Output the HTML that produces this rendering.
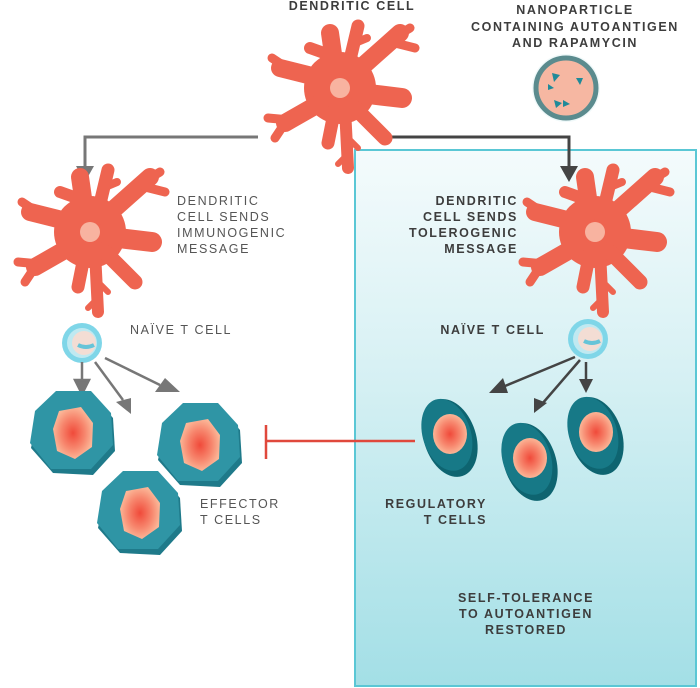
<!DOCTYPE html>
<html><head><meta charset="utf-8"><style>
body{margin:0;background:#fff}
svg{display:block}
text{font-family:"Liberation Sans",sans-serif;font-size:12.5px;letter-spacing:1.6px;fill:#444}
.b{font-weight:bold;fill:#3d3d3d}
.l{fill:#555}
</style></head><body>
<svg width="700" height="688" viewBox="0 0 700 688">
<defs>
<linearGradient id="pg" x1="0" y1="0" x2="0" y2="1">
<stop offset="0" stop-color="#f4fbfc"/><stop offset="0.4" stop-color="#d8f1f4"/><stop offset="1" stop-color="#a3dfe6"/></linearGradient>
<radialGradient id="nuc"><stop offset="0" stop-color="#f04a3a"/><stop offset="0.6" stop-color="#f7876e"/><stop offset="1" stop-color="#fbb596"/></radialGradient>
<g id="dc" stroke="#ee6450" stroke-linecap="round" stroke-linejoin="round" fill="none">
<circle cx="0" cy="0" r="36" fill="#ee6450" stroke="none"/>
<path d="M-5 -20 L-10 -55" stroke-width="18"/>
<path d="M8 -20 L18 -62" stroke-width="13"/>
<path d="M15 -45 L27 -50" stroke-width="8"/>
<path d="M15 -15 L60 -55" stroke-width="18"/>
<path d="M50 -48 L70 -60 M55 -45 L75 -40" stroke-width="9"/>
<path d="M20 5 L62 10" stroke-width="20"/>
<path d="M15 20 L45 50" stroke-width="15"/>
<path d="M-20 -10 L-60 -20" stroke-width="18"/>
<path d="M-50 -18 L-68 -30" stroke-width="9"/>
<path d="M-20 15 L-55 35" stroke-width="18"/>
<path d="M-50 32 L-72 30 M-55 35 L-65 50" stroke-width="9"/>
<path d="M-5 20 L-12 55" stroke-width="13"/>
<path d="M5 20 L8 80" stroke-width="12"/>
<path d="M8 50 L18 60 M6 68 L-2 76" stroke-width="6"/>
<path d="M-2 -30 L-30 -40" stroke-width="12"/>
<circle cx="0" cy="0" r="10" fill="#f8b3a0" stroke="none"/>
</g>
<g id="eff">
<polygon points="-35,-20 -15,-40 20,-38 40,-15 42,18 20,42 -20,40 -42,15" fill="#1f7a8a"/>
<polygon points="-38,-22 -17,-42 18,-42 38,-20 40,12 18,36 -22,36 -43,10" fill="#2f95a5"/>
<path d="M-14 -22 L8 -26 L20 -10 L19 14 L2 26 L-16 18 L-20 -4Z" fill="url(#nuc)"/>
</g>
<g id="reg">
<ellipse cx="0" cy="0" rx="26" ry="40" fill="#0e6470" transform="rotate(-18)"/>
<ellipse cx="-2" cy="-4" rx="24" ry="37" fill="#177987" transform="rotate(-18)"/>
<ellipse cx="0" cy="-4" rx="17" ry="20" fill="url(#nuc)"/>
</g>
<g id="nt">
<circle r="20" fill="#7fd6e8"/><circle r="15" fill="#bfe9f1"/>
<circle cx="2" cy="0" r="12" fill="#f3ddd4"/>
<path d="M-4 2 Q4 6 12 2" stroke="#66c4d8" stroke-width="4" fill="none"/>
</g>
</defs>
<rect x="355" y="150" width="341" height="536" fill="url(#pg)" stroke="#5ac7d5" stroke-width="2"/>

<path d="M258 137 H85 V170" stroke="#777" stroke-width="3" fill="none"/>
<polygon points="76,166 94,166 85,182" fill="#777"/>
<path d="M392 137 H569 V170" stroke="#444" stroke-width="3" fill="none"/>
<polygon points="560,166 578,166 569,182" fill="#444"/>

<use href="#dc" x="340" y="88"/>
<use href="#dc" x="90" y="232"/>
<use href="#dc" x="595" y="232"/>

<circle cx="566" cy="88" r="34" fill="#eaf6f8" opacity="0.7"/>
<circle cx="566" cy="88" r="30" fill="#f6b7a2" stroke="#5b8b8e" stroke-width="5"/>
<g fill="#1f8a99"><polygon points="552,73 560,75 554,82"/><polygon points="576,78 583,78 580,85"/><polygon points="554,100 562,103 556,108"/><polygon points="563,100 570,104 563,107"/><polygon points="548,84 554,88 548,90"/></g>

<use href="#nt" x="82" y="343"/>
<use href="#nt" x="588" y="339"/>

<g stroke="#777" stroke-width="2.5" fill="#777">
<line x1="82" y1="362" x2="82" y2="382"/><polygon points="75,380 89,380 82,394"/>
<line x1="95" y1="362" x2="123" y2="400"/><polygon points="116,402 131,398 131,414" stroke="none"/>
<line x1="105" y1="358" x2="160" y2="385"/><polygon points="155,392 165,378 180,392" stroke="none"/>
</g>
<g stroke="#444" stroke-width="2.5" fill="#444">
<line x1="575" y1="357" x2="505" y2="386"/><polygon points="489,393 503,378 508,393" stroke="none"/>
<line x1="580" y1="360" x2="542" y2="404"/><polygon points="534,413 534,398 547,403" stroke="none"/>
<line x1="586" y1="362" x2="586" y2="380"/><polygon points="579,379 593,379 586,393" stroke="none"/>
</g>

<use href="#eff" x="73" y="433"/>
<use href="#eff" x="200" y="445"/>
<use href="#eff" x="140" y="513"/>
<use href="#reg" x="450" y="438"/>
<use href="#reg" x="530" y="462"/>
<use href="#reg" x="596" y="436"/>

<path d="M415 441 H266 M266 425 V459" stroke="#e0483c" stroke-width="2.5" fill="none"/>

<text class="b" x="352" y="10" text-anchor="middle">DENDRITIC CELL</text>
<text class="b" x="575" y="14" text-anchor="middle">NANOPARTICLE</text>
<text class="b" x="575" y="31" text-anchor="middle">CONTAINING AUTOANTIGEN</text>
<text class="b" x="575" y="47" text-anchor="middle">AND RAPAMYCIN</text>
<text class="l" x="177" y="205">DENDRITIC</text>
<text class="l" x="177" y="221">CELL SENDS</text>
<text class="l" x="177" y="237">IMMUNOGENIC</text>
<text class="l" x="177" y="253">MESSAGE</text>
<text class="b" x="518" y="205" text-anchor="end">DENDRITIC</text>
<text class="b" x="518" y="221" text-anchor="end">CELL SENDS</text>
<text class="b" x="518" y="237" text-anchor="end">TOLEROGENIC</text>
<text class="b" x="518" y="253" text-anchor="end">MESSAGE</text>
<text class="l" x="130" y="334">NAÏVE T CELL</text>
<text class="b" x="545" y="334" text-anchor="end">NAÏVE T CELL</text>
<text class="l" x="200" y="508">EFFECTOR</text>
<text class="l" x="200" y="524">T CELLS</text>
<text class="b" x="487" y="508" text-anchor="end">REGULATORY</text>
<text class="b" x="487" y="524" text-anchor="end">T CELLS</text>
<text class="b" x="526" y="602" text-anchor="middle">SELF-TOLERANCE</text>
<text class="b" x="526" y="618" text-anchor="middle">TO AUTOANTIGEN</text>
<text class="b" x="526" y="634" text-anchor="middle">RESTORED</text>
</svg>
</body></html>
